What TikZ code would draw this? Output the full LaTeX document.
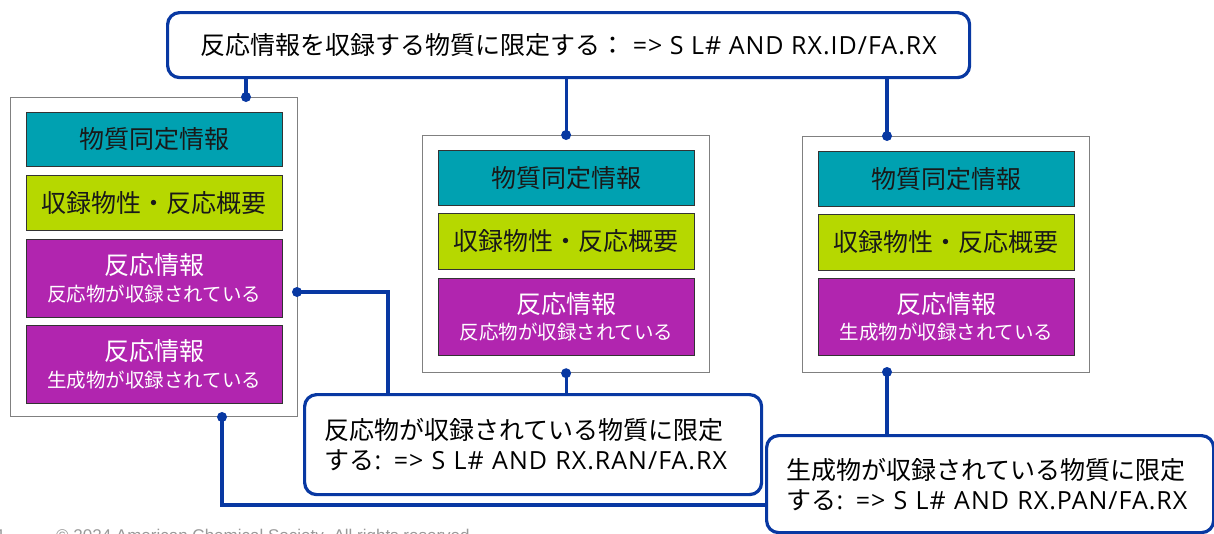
\documentclass[tikz,border=0pt]{standalone}
\usepackage{fontspec}
\setmainfont{Noto Sans CJK JP}
\newfontfamily\lat[LetterSpace=4]{Open Sans}
\newfontfamily\footfont{Liberation Sans}
\definecolor{lineblue}{RGB}{8,56,162}
\definecolor{tealc}{RGB}{0,161,177}
\definecolor{greenc}{RGB}{182,216,0}
\definecolor{purplec}{RGB}{177,37,175}
\begin{document}
\begin{tikzpicture}[x=1pt,y=-1pt,
  container/.style={draw=black!50, line width=1.2pt, fill=white, anchor=north west, inner sep=0pt},
  infobox/.style={draw=black!80, line width=0.9pt, anchor=north west, minimum width=256pt, inner sep=0pt, align=center},
  idbox/.style={infobox, fill=tealc, text=black!90, font=\fontsize{25}{30}\selectfont},
  propbox/.style={infobox, fill=greenc, text=black!90, font=\fontsize{25}{30}\selectfont},
  rxbox/.style={infobox, fill=purplec, text=white},
  callout/.style={draw=lineblue, line width=3.2pt, rounded corners=12pt, fill=white, anchor=north west, inner sep=0pt, font=\fontsize{25}{30}\selectfont, text=black},
  conn/.style={draw=lineblue, line width=3.2pt},
  dot/.style={fill=lineblue}
]
\useasboundingbox (0,0) rectangle (1214,533);
% containers
\node[container, minimum width=287pt, minimum height=319pt] (c1) at (10,97) {};
\node[container, minimum width=287pt, minimum height=237pt] (c2) at (422,135) {};
\node[container, minimum width=287pt, minimum height=236pt] (c3) at (802,136) {};
% left column
\node[idbox, minimum height=54pt] (t1) at (26,112) {物質同定情報};
\node[propbox, minimum height=55pt] (g1) at (26,175) {収録物性・反応概要};
\node[rxbox, minimum height=78pt] (p1a) at (26,239) {{\fontsize{25}{28}\selectfont 反応情報}\\[7pt]{\fontsize{19.5}{24}\selectfont 反応物が収録されている}};
\node[rxbox, minimum height=78pt] (p1b) at (26,325) {{\fontsize{25}{28}\selectfont 反応情報}\\[7pt]{\fontsize{19.5}{24}\selectfont 生成物が収録されている}};
% middle column
\node[idbox, minimum height=55pt] (t2) at (438,150) {物質同定情報};
\node[propbox, minimum height=56pt] (g2) at (438,213) {収録物性・反応概要};
\node[rxbox, minimum height=77pt] (p2) at (438,278) {{\fontsize{25}{28}\selectfont 反応情報}\\[7pt]{\fontsize{19.5}{24}\selectfont 反応物が収録されている}};
% right column
\node[idbox, minimum height=55pt] (t3) at (818,151) {物質同定情報};
\node[propbox, minimum height=56pt] (g3) at (818,214) {収録物性・反応概要};
\node[rxbox, minimum height=77pt] (p3) at (818,278) {{\fontsize{25}{28}\selectfont 反応情報}\\[7pt]{\fontsize{19.5}{24}\selectfont 生成物が収録されている}};
% connector anchor points
\coordinate (c1top) at (246,97);
\coordinate (c1r) at (297,292);
\coordinate (c1b) at (222,417);
\coordinate (c3top) at (887,136);
\coordinate (c3b) at (887,372);
% connectors
\draw[conn] (c1top) -- (c1top |- 0,76);
\draw[conn] (c2.north) -- (c2.north |- 0,76);
\draw[conn] (c3top) -- (c3top |- 0,76);
\draw[conn] (c1r) -| (388,393);
\draw[conn] (c2.south) -- (c2.south |- 0,393);
\draw[conn] (c1b) |- (765,505);
\draw[conn] (c3b) -- (c3b |- 0,434);
% callouts
\node[callout, minimum width=802pt, minimum height=65pt] (ctop) at (166,11) {反応情報を収録する物質に限定する：{\lat\ => S L\# AND RX.ID/FA.RX}};
\node[callout, minimum width=457pt, minimum height=100pt, text width=417pt, inner xsep=20pt, align=left] (cmid) at (303,393) {反応物が収録されている物質に限定\\する{\lat: => S L\# AND RX.RAN/FA.RX}};
\node[callout, minimum width=447pt, minimum height=97pt, text width=407pt, inner xsep=20pt, align=left] (cright) at (765,434) {生成物が収録されている物質に限定\\する{\lat: => S L\# AND RX.PAN/FA.RX}};
% dots
\fill[dot] (c1top) circle (5pt);
\fill[dot] (c2.north) circle (5pt);
\fill[dot] (c3top) circle (5pt);
\fill[dot] (c1r) circle (5pt);
\fill[dot] (c2.south) circle (5pt);
\fill[dot] (c1b) circle (5pt);
\fill[dot] (c3b) circle (5pt);
% footer (cut off by the lower edge, as in the reference)
\node[anchor=base west, inner sep=0pt, text=black!40, font=\footfont\fontsize{17}{20}\selectfont] (pg) at (-4,541) {1};
\node[anchor=base west, inner sep=0pt, text=black!40, font=\footfont\fontsize{17}{20}\selectfont] (foot) at (56,541) {© 2024 American Chemical Society. All rights reserved.};
\end{tikzpicture}
\end{document}
